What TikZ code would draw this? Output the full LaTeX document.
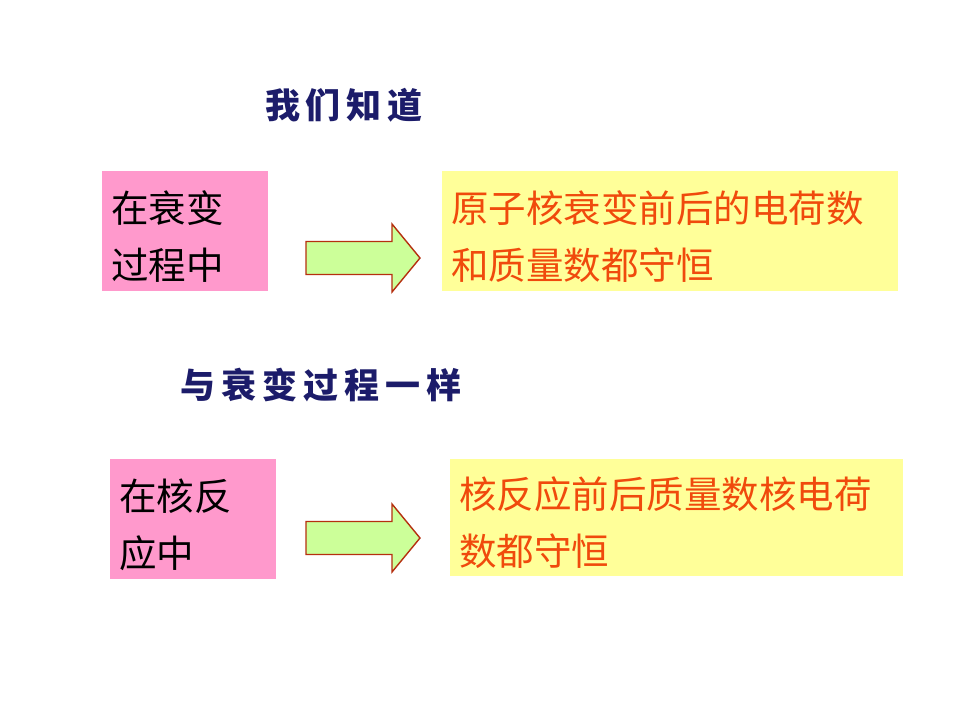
\documentclass[tikz,border=0pt]{standalone}
\usepackage{fontspec}
\newfontfamily\cjk{Noto Sans CJK SC}
\definecolor{pinkbox}{HTML}{FF99CC}
\definecolor{yellowbox}{HTML}{FFFF99}
\definecolor{arrowfill}{HTML}{CCFF99}
\definecolor{arrowline}{HTML}{B5300F}
\definecolor{redtext}{HTML}{F04A0C}
\definecolor{navy}{HTML}{1C1C6A}
\newcommand{\firststrut}{\rule{0pt}{42pt}}
\tikzset{
  heading/.style={font=\cjk\bfseries\fontsize{35}{35}\selectfont, text=navy, inner sep=0pt},
  box/.style={anchor=north west, inner xsep=9pt, inner ysep=0pt, align=left,
    font=\cjk\fontsize{37.5}{57}\selectfont},
  pinkstyle/.style={box, fill=pinkbox, text=black},
  yellowstyle/.style={box, fill=yellowbox, text=redtext},
  pics/barrow/.style={code={
    \draw[fill=arrowfill, draw=arrowline, line width=1.4pt, line join=miter]
      (0,-16.5) -- (86,-16.5) -- (86,-34) -- (114,0) -- (86,34) -- (86,16.5) -- (0,16.5) -- cycle;
  }}
}
\begin{document}
\begin{tikzpicture}[x=1pt,y=-1pt]
\useasboundingbox (0,0) rectangle (960,720);
\fill[white] (0,0) rectangle (960,720);
\node[heading] (t1) at (344,105) {我\hspace{6pt}们\hspace{6pt}知\hspace{6pt}道};
\node[pinkstyle, text width=148pt, minimum height=120pt] (p1) at (102,171) {\firststrut 在衰变\\过程中};
\node[yellowstyle, text width=438pt, minimum height=120pt] (y1) at (442,171) {\firststrut 原子核衰变前后的电荷数\\和质量数都守恒};
\pic at (306,258) {barrow};
\node[heading] (t2) at (321,385) {与\hspace{6pt}衰\hspace{6pt}变\hspace{6pt}过\hspace{6pt}程\hspace{6pt}一\hspace{6pt}样};
\node[pinkstyle, text width=148pt, minimum height=120pt] (p2) at (110,459) {\firststrut 在核反\\应中};
\node[yellowstyle, text width=435pt, minimum height=117pt] (y2) at (450,459) {\firststrut 核反应前后质量数核电荷\\数都守恒};
\pic at (306,538) {barrow};
\end{tikzpicture}
\end{document}
